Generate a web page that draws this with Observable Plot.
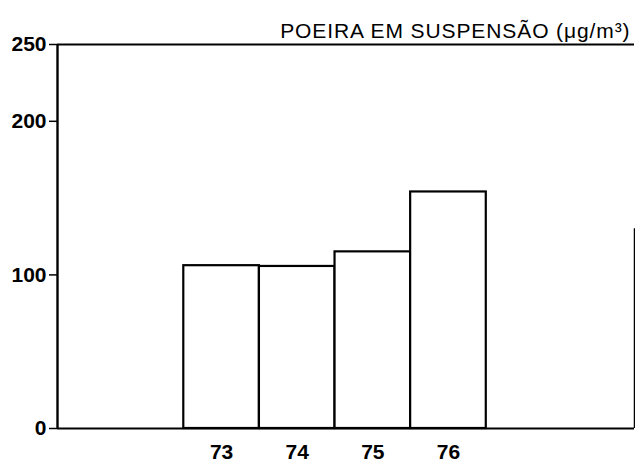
<!DOCTYPE html>
<html>
<head>
<meta charset="utf-8">
<script src="https://cdn.jsdelivr.net/npm/d3@7"></script>
<script src="https://cdn.jsdelivr.net/npm/@observablehq/plot@0.6"></script>
<style>
  html, body { margin: 0; padding: 0; background: #fff; }
  #chart svg { display: block; }
</style>
</head>
<body>
<div id="chart"></div>
<script>
const years = [73, 74, 75, 76];
const values = [106, 105.5, 115, 154];
const yTicks = [0, 100, 200, 250];
const titleText = "POEIRA EM SUSPENSÃO (μg/m³)";

const data = years.map((y, i) => ({ year: y, value: values[i] }));
const xMin = 70.83, xMax = 78.46;

const plot = Plot.plot({
  width: 635,
  height: 462,
  marginLeft: 57,
  marginRight: 1,
  marginTop: 44,
  marginBottom: 34,
  style: { fontFamily: "'Liberation Sans', Arial, sans-serif", background: "#fff", color: "#000" },
  x: { domain: [xMin, xMax], axis: null },
  y: { domain: [0, 250], axis: null },
  marks: [
    Plot.rectY(data, {
      x1: d => d.year - 0.5,
      x2: d => d.year + 0.5,
      y: "value",
      fill: "white",
      stroke: "black",
      strokeWidth: 2.2
    }),
    Plot.ruleY([0], { stroke: "black", strokeWidth: 2.2 }),
    Plot.ruleY([250], { stroke: "black", strokeWidth: 2 }),
    Plot.ruleX([xMin], { stroke: "black", strokeWidth: 2.4 }),
    Plot.ruleX([xMax], { y1: 0, y2: 130, stroke: "black", strokeWidth: 1.5 }),
    Plot.axisY({
      ticks: yTicks,
      tickSize: 8,
      tickPadding: 3,
      tickFormat: d => String(d),
      fontSize: 21,
      fontWeight: 600,
      stroke: "black",
      strokeWidth: 1.5,
      label: null
    }),
    Plot.axisX({
      ticks: years,
      tickSize: 0,
      tickPadding: 16,
      tickFormat: d => String(d),
      fontSize: 21,
      fontWeight: 600,
      label: null
    }),
    Plot.text([titleText], {
      frameAnchor: "top-right",
      lineAnchor: "bottom",
      dx: -4,
      dy: -7,
      fontSize: 21,
      textAnchor: "end",
      fill: "black"
    })
  ]
});

d3.select(plot).selectAll("text")
  .filter(function () { return this.textContent === titleText; })
  .style("letter-spacing", "0.9px");

document.getElementById("chart").appendChild(plot);
</script>
</body>
</html>
